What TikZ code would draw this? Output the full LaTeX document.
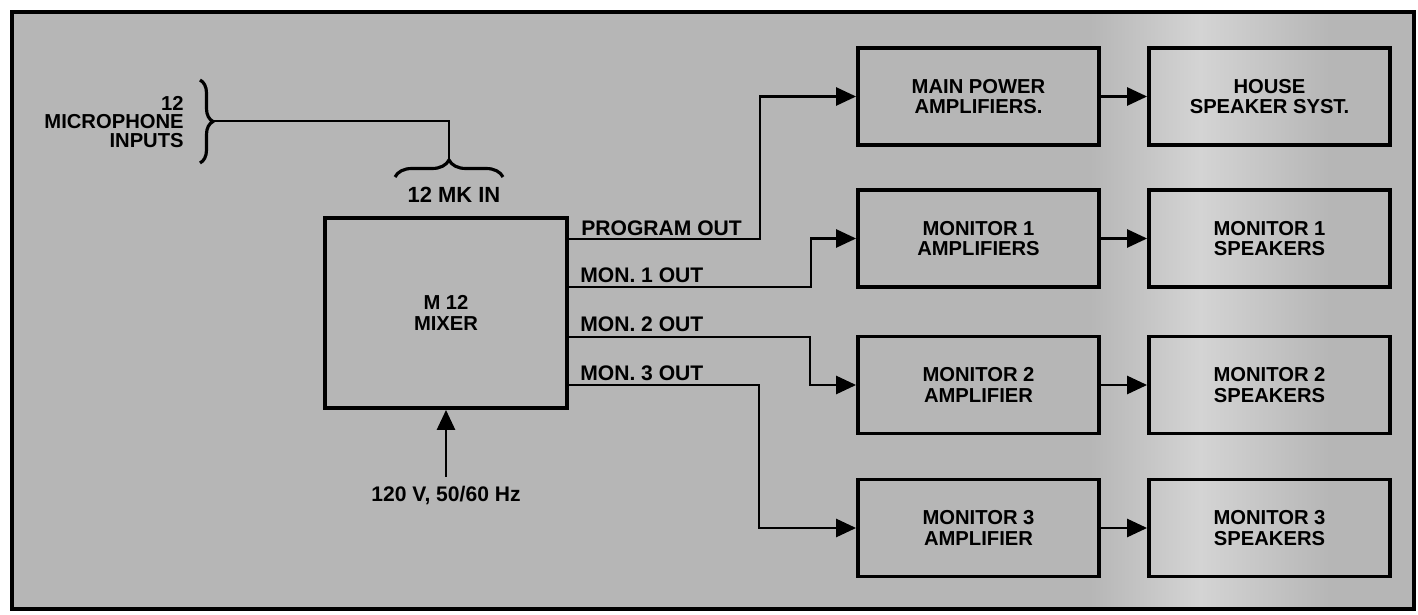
\documentclass[tikz,border=0pt]{standalone}
\usepackage{fontspec}
\setmainfont{Liberation Sans}
\usetikzlibrary{arrows.meta,decorations.pathreplacing}
\definecolor{bg}{RGB}{182,182,182}
\definecolor{bglight}{RGB}{212,212,212}
\begin{document}
\begin{tikzpicture}[x=0.02cm,y=-0.02cm,
  lbl/.style={font=\bfseries\fontsize{12}{11.4}\selectfont, inner sep=0pt},
  blk/.style={draw, line width=2.2pt, minimum width=4.82cm, minimum height=1.94cm,
              align=center, inner sep=0pt, font=\bfseries\fontsize{11.5}{11.6}\selectfont},
  conn/.style={line width=1.5pt},
  arr/.style={conn, -{Triangle[length=0.4cm,width=0.36cm]}},
  bracestyle/.style={line width=1.8pt, decorate}
]
\useasboundingbox (0,0) rectangle (1418,615);
\fill[white] (0,0) rectangle (1418,615);
\fill[bg] (12,12) rectangle (1414,609);
\shade[left color=bg, right color=bglight] (1090,12) rectangle (1200,609);
\shade[left color=bglight, right color=bg] (1200,12) rectangle (1330,609);
\draw[line width=2.1pt] (12,12) rectangle (1414,609);

% mixer
\node[blk, minimum width=4.84cm, minimum height=3.8cm] (mixer) at (446,313) {M 12\\MIXER};

% amplifiers
\node[blk] (amp1) at (978.5,96.5) {MAIN POWER\\AMPLIFIERS.};
\node[blk] (amp2) at (978.5,238.5) {MONITOR 1\\AMPLIFIERS};
\node[blk] (amp3) at (978.5,385) {MONITOR 2\\AMPLIFIER};
\node[blk] (amp4) at (978.5,528) {MONITOR 3\\AMPLIFIER};

% speakers
\node[blk] (spk1) at (1269.5,96.5) {HOUSE\\SPEAKER SYST.};
\node[blk] (spk2) at (1269.5,238.5) {MONITOR 1\\SPEAKERS};
\node[blk] (spk3) at (1269.5,385) {MONITOR 2\\SPEAKERS};
\node[blk] (spk4) at (1269.5,528) {MONITOR 3\\SPEAKERS};

% output labels
\node[lbl, anchor=west] (lprog) at (581,228) {PROGRAM OUT};
\node[lbl, anchor=west] (lmon1) at (580,275) {MON. 1 OUT};
\node[lbl, anchor=west] (lmon2) at (580,324) {MON. 2 OUT};
\node[lbl, anchor=west] (lmon3) at (580,373) {MON. 3 OUT};

% output connectors
\draw[arr] (mixer.east |- 0,239) -- (760,239) |- (amp1.west);
\draw[arr] (mixer.east |- 0,287) -- (811,287) |- (amp2.west);
\draw[arr] (mixer.east |- 0,337) -- (810,337) |- (amp3.west);
\draw[arr] (mixer.east |- 0,385) -- (759,385) |- (amp4.west);

% amp -> speakers
\draw[arr] (amp1) -- (spk1);
\draw[arr] (amp2) -- (spk2);
\draw[arr] (amp3) -- (spk3);
\draw[arr] (amp4) -- (spk4);

% power
\node[lbl, inner ysep=5pt] (pwr) at (446,495) {120 V, 50/60 Hz};
\draw[arr] (pwr.north) -- (mixer.south);

% microphone inputs
\node[lbl, anchor=east, align=right, font=\bfseries\fontsize{11.5}{10.6}\selectfont] (mic) at (184,122) {12\\MICROPHONE\\INPUTS};
\draw[bracestyle, decoration={brace, amplitude=0.26cm}] (200,80) -- (200,163);
\coordinate (micb) at (213,121);
\draw[bracestyle, decoration={brace, amplitude=0.34cm}] (395,177) -- (503,177);
\coordinate (mkb) at (449,160);
\draw[conn] (micb) -| (mkb);
\node[lbl, font=\bfseries\fontsize{12.5}{12}\selectfont] (mkin) at (454,195) {12 MK IN};
\end{tikzpicture}
\end{document}
